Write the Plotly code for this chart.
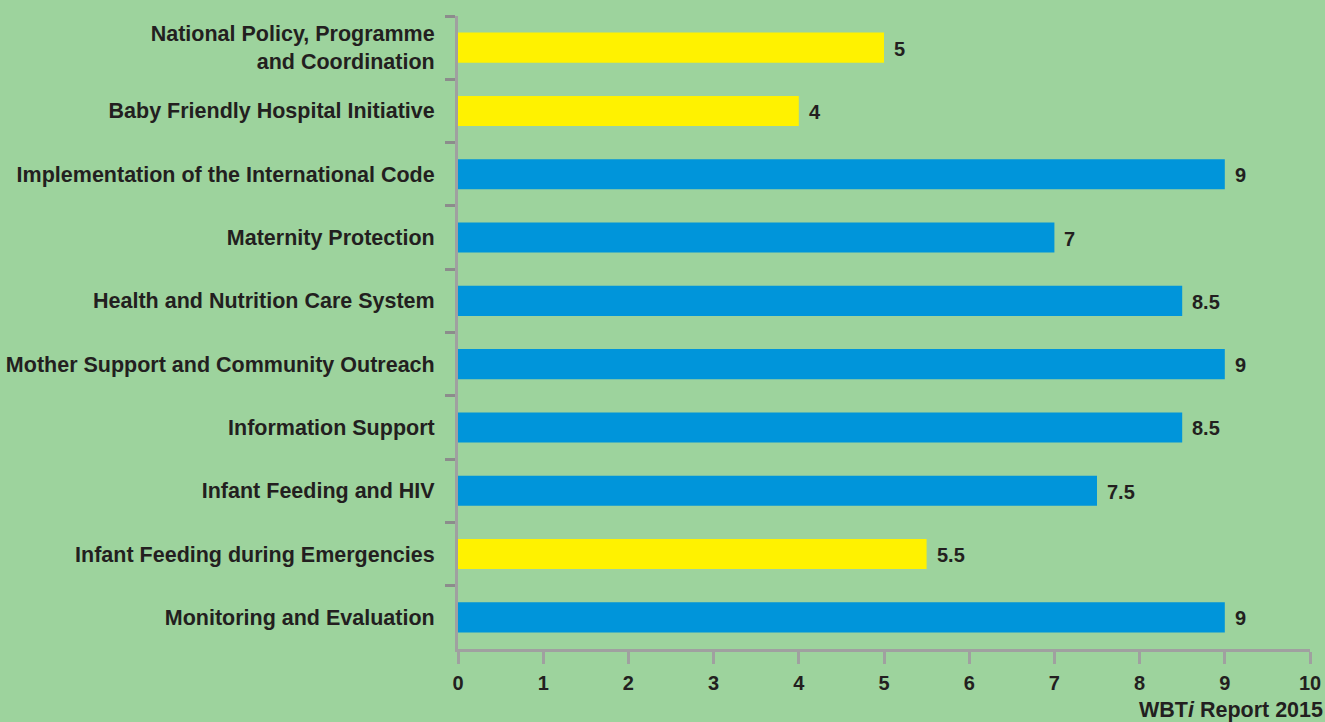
import plotly.graph_objects as go

categories = [
    "National Policy, Programme<br>and Coordination",
    "Baby Friendly Hospital Initiative",
    "Implementation of the International Code",
    "Maternity Protection",
    "Health and Nutrition Care System",
    "Mother Support and Community Outreach",
    "Information Support",
    "Infant Feeding and HIV",
    "Infant Feeding during Emergencies",
    "Monitoring and Evaluation",
]
scores = [5, 4, 9, 7, 8.5, 9, 8.5, 7.5, 5.5, 9]
score_labels = ["5", "4", "9", "7", "8.5", "9", "8.5", "7.5", "5.5", "9"]
bar_groups = ["yellow", "yellow", "blue", "blue", "blue", "blue", "blue", "blue", "yellow", "blue"]
x_ticks = [0, 1, 2, 3, 4, 5, 6, 7, 8, 9, 10]

GROUP_COLORS = {"yellow": "#fff200", "blue": "#0095da"}
BG = "#9dd39d"
AXIS = "#a0a0a0"
TEXT = "#231f20"
FONT = "Liberation Sans, Arial, Helvetica, sans-serif"

fig = go.Figure(
    go.Bar(
        x=scores,
        y=categories,
        orientation="h",
        marker=dict(color=[GROUP_COLORS[g] for g in bar_groups], line=dict(width=0)),
        hoverinfo="x+y",
    )
)

for cat, val, lab in zip(categories, scores, score_labels):
    fig.add_annotation(
        x=val, y=cat, xref="x", yref="y", text=lab, showarrow=False,
        xanchor="left", yanchor="middle", xshift=8, yshift=-1,
        font=dict(family=FONT, size=20, color=TEXT, weight="bold"),
    )

fig.add_annotation(
    x=1, y=0, xref="paper", yref="paper", text="WBT<i>i</i> Report 2015",
    showarrow=False, xanchor="right", yanchor="top", xshift=15, yshift=-47,
    font=dict(family=FONT, size=21.5, color=TEXT, weight="bold"),
)

fig.update_layout(
    width=1325, height=722,
    margin=dict(l=458, r=15, t=16, b=73, autoexpand=False),
    paper_bgcolor=BG, plot_bgcolor=BG,
    bargap=0.525,
    showlegend=False,
    font=dict(family=FONT, color=TEXT),
)
fig.update_xaxes(
    range=[0, 10], tickvals=x_ticks, ticktext=[str(t) for t in x_ticks],
    showgrid=False, zeroline=False,
    showline=True, linecolor=AXIS, linewidth=3,
    ticks="outside", ticklen=12, tickwidth=3, tickcolor=AXIS,
    ticklabelstandoff=2,
    tickfont=dict(family=FONT, size=20, color=TEXT, weight="bold"),
)
fig.update_yaxes(
    categoryorder="array", categoryarray=categories, autorange="reversed",
    showgrid=False, zeroline=False,
    showline=True, linecolor=AXIS, linewidth=3,
    ticks="outside", ticklen=10, tickwidth=3, tickcolor="#8c8c8c",
    tickson="boundaries", ticklabelstandoff=16,
    tickfont=dict(family=FONT, size=21.5, color=TEXT, weight="bold"),
)

fig.write_html("out.html")
